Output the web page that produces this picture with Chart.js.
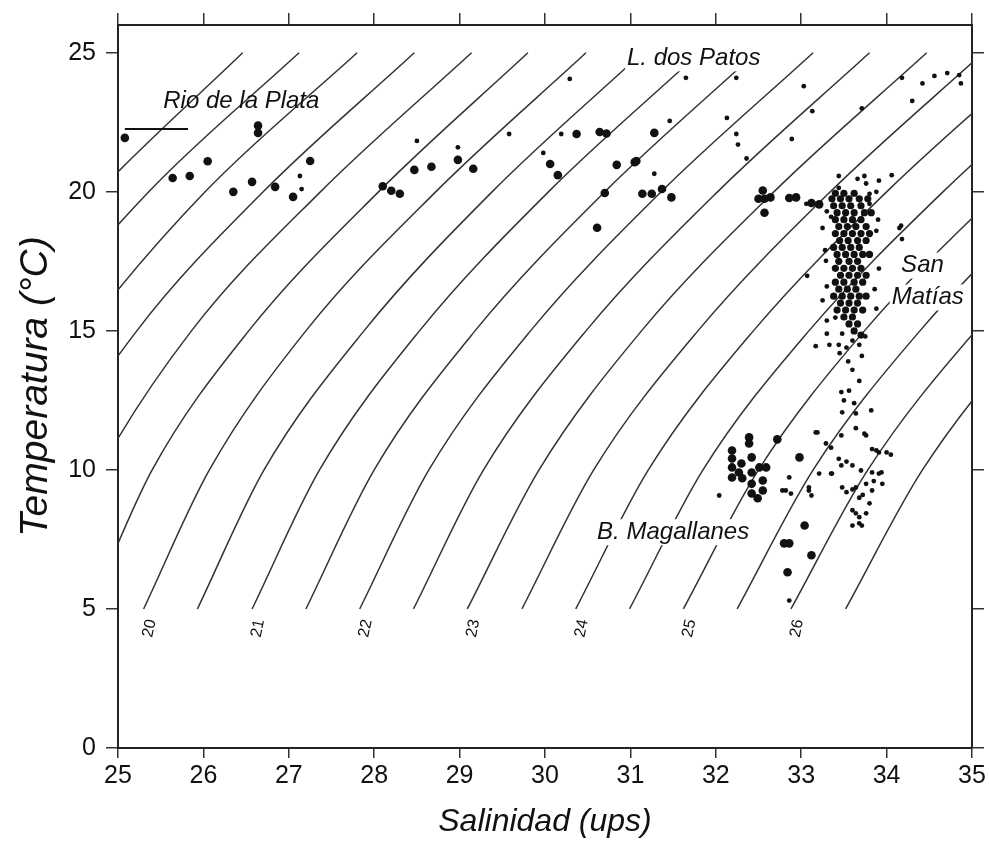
<!DOCTYPE html>
<html>
<head>
<meta charset="utf-8">
<script src="https://cdn.jsdelivr.net/npm/chart.js@4.4.0/dist/chart.umd.min.js"></script>
<style>
  html, body { margin: 0; padding: 0; background: #fff; }
  #wrap { width: 989px; height: 849px; }
</style>
</head>
<body>
<div id="wrap"><canvas id="tsChart" width="989" height="849"></canvas></div>
<script>
// Diagrama T-S con isopicnas (sigma-t)
const FUENTE = '"Liberation Sans", Arial, sans-serif';

// isopicnas: salinidad donde cada curva cruza 5, 10, 15, 20 y 25 °C
const sigmaT = [17, 17.5, 18, 18.5, 19, 19.5, 20, 20.5, 21, 21.5, 22, 22.5, 23, 23.5, 24, 24.5, 25, 25.5, 26, 26.5];
const tempNiveles = [5, 10, 15, 20, 25];
const salT5  = [21.51, 22.14, 22.77, 23.41, 24.04, 24.67, 25.30, 25.93, 26.57, 27.20, 27.83, 28.46, 29.09, 29.73, 30.36, 30.99, 31.62, 32.25, 32.88, 33.52];
const salT10 = [22.22, 22.86, 23.50, 24.15, 24.79, 25.40, 26.07, 26.71, 27.36, 28.00, 28.64, 29.28, 29.93, 30.57, 31.21, 31.85, 32.50, 33.14, 33.78, 34.42];
const salT15 = [23.32, 23.97, 24.62, 25.22, 25.86, 26.53, 27.20, 27.88, 28.53, 29.18, 29.83, 30.48, 31.13, 31.79, 32.44, 33.09, 33.74, 34.39, 35.04, 35.69];
const salT20 = [24.77, 25.36, 26.02, 26.70, 27.37, 28.05, 28.72, 29.38, 30.04, 30.70, 31.36, 32.02, 32.68, 33.34, 34.00, 34.66, 35.32, 35.97, 36.63, 37.29];
const salT25 = [26.46, 27.12, 27.80, 28.47, 29.14, 29.80, 30.48, 31.14, 31.81, 32.47, 33.14, 33.80, 34.47, 35.13, 35.80, 36.46, 37.13, 37.79, 38.46, 39.12];
const etiquetasSigma = [20, 21, 22, 23, 24, 25, 26];

// estaciones [salinidad, temperatura]
const puntosGrandes = [
  [25.08, 21.94], [26.64, 22.12], [26.64, 22.38], [26.05, 21.1], [25.64, 20.5], [25.84, 20.57],
  [26.35, 20.0], [26.57, 20.36], [26.84, 20.18], [27.05, 19.82], [27.25, 21.11],
  [28.10, 20.2], [28.2, 20.04], [28.3, 19.93], [28.47, 20.79], [28.67, 20.9], [28.98, 21.15], [29.16, 20.83],
  [30.06, 21.0], [30.15, 20.6], [30.37, 22.08], [30.64, 22.15], [30.72, 22.1], [30.84, 20.97], [31.05, 21.07],
  [30.70, 19.96], [30.61, 18.71], [31.28, 22.12], [31.07, 21.11],
  [31.14, 19.93], [31.25, 19.93], [31.37, 20.1], [31.48, 19.8],
  [32.55, 20.05], [32.57, 19.75], [32.57, 19.25], [32.50, 19.75], [32.64, 19.8], [32.94, 19.8], [32.86, 19.78],
  [33.12, 19.6], [33.21, 19.55],
  [32.39, 11.17], [32.39, 10.95], [32.19, 10.7], [32.19, 10.41], [32.19, 10.09], [32.19, 9.73], [32.3, 10.23],
  [32.42, 10.45], [32.42, 9.91], [32.51, 10.09], [32.59, 10.09], [32.55, 9.62], [32.55, 9.26], [32.49, 8.98],
  [32.42, 9.5], [32.42, 9.15], [32.27, 9.91], [32.31, 9.7], [32.72, 11.1], [32.98, 10.45],
  [33.04, 8.0], [32.86, 7.36], [32.80, 7.36], [33.12, 6.93], [32.84, 6.32]
];
const puntosChicos = [
  [27.13, 20.57], [27.15, 20.1], [28.50, 21.83], [28.98, 21.6], [29.58, 22.08], [29.98, 21.4], [30.19, 22.08],
  [31.46, 22.55], [31.28, 20.65], [30.29, 24.06], [31.65, 24.1], [32.24, 24.1], [32.13, 22.66], [32.24, 22.08],
  [32.26, 21.7], [33.03, 23.8], [33.13, 22.9], [32.89, 21.9], [33.71, 23.0], [34.30, 23.27], [34.18, 24.1],
  [34.42, 23.9], [34.56, 24.17], [34.71, 24.27], [34.85, 24.2], [34.87, 23.9], [32.36, 21.2],
  [32.04, 9.08], [32.86, 9.73], [32.82, 9.26], [33.09, 9.26], [33.17, 11.35], [33.29, 10.95], [32.86, 5.3],
  [32.78, 9.26], [32.88, 9.15], [33.12, 9.08], [33.09, 9.37],
  [33.17, 14.45], [33.33, 14.5], [33.44, 14.5], [33.68, 14.5], [33.71, 14.1], [33.6, 13.6], [33.68, 13.2],
  [33.47, 12.8], [33.56, 12.85], [33.48, 12.07], [33.64, 12.03], [33.82, 12.14], [33.64, 11.5], [33.76, 11.24],
  [33.47, 11.24], [33.19, 11.35], [33.35, 10.8], [33.88, 10.7], [33.47, 10.16], [33.6, 10.16], [33.35, 9.87],
  [33.21, 9.87], [33.48, 9.37], [33.64, 9.37], [33.76, 9.5], [33.83, 9.26], [33.68, 9.0], [33.8, 8.8],
  [33.91, 9.87], [33.64, 8.44], [33.76, 8.44], [33.68, 8.08], [33.74, 11.3], [33.91, 10.63], [34.0, 10.63],
  [33.7, 9.98], [33.83, 9.91], [33.94, 9.91], [33.53, 9.2], [33.6, 9.3], [33.72, 9.1], [33.6, 8.55],
  [33.68, 8.3], [33.71, 8.0], [33.6, 8.0], [33.36, 9.87], [33.53, 10.3], [33.44, 10.4], [33.83, 10.75],
  [34.05, 10.55], [33.85, 9.6], [33.95, 9.5], [33.5, 12.5], [33.62, 12.4], [33.55, 13.9], [33.45, 14.2],
  [33.75, 14.8], [33.3, 14.9], [33.48, 14.9], [33.6, 14.65], [33.53, 14.4],
  [33.66, 20.47], [33.76, 20.3], [33.91, 20.4], [34.06, 20.6], [33.44, 20.14], [33.8, 19.93], [33.8, 19.57],
  [33.25, 18.7], [33.29, 17.52], [33.07, 16.98], [33.88, 18.6], [33.91, 17.24], [34.17, 18.78], [34.18, 18.3],
  [33.25, 16.1], [33.3, 15.37], [33.4, 15.48], [33.44, 20.57], [33.74, 20.57], [33.88, 20.0], [34.15, 18.7],
  [33.06, 19.57], [33.3, 19.3], [33.35, 19.1], [33.3, 16.6], [33.28, 17.9], [33.86, 16.5], [33.88, 15.8], [33.9, 19.0]
];
// núcleo denso frente a San Matías
const puntosGolfo = [
  [33.40, 19.95], [33.50, 19.95], [33.62, 19.95],
  [33.36, 19.75], [33.46, 19.75], [33.56, 19.75], [33.68, 19.75], [33.78, 19.75],
  [33.38, 19.5], [33.48, 19.5], [33.58, 19.5], [33.70, 19.5],
  [33.42, 19.25], [33.52, 19.25], [33.62, 19.25], [33.74, 19.25], [33.82, 19.25],
  [33.40, 19.0], [33.50, 19.0], [33.60, 19.0], [33.70, 19.0],
  [33.44, 18.75], [33.54, 18.75], [33.64, 18.75], [33.76, 18.75],
  [33.40, 18.5], [33.50, 18.5], [33.60, 18.5], [33.70, 18.5], [33.80, 18.5],
  [33.45, 18.25], [33.55, 18.25], [33.66, 18.25], [33.76, 18.25],
  [33.38, 18.0], [33.48, 18.0], [33.58, 18.0], [33.68, 18.0],
  [33.42, 17.75], [33.52, 17.75], [33.62, 17.75], [33.72, 17.75], [33.80, 17.75],
  [33.44, 17.5], [33.56, 17.5], [33.66, 17.5],
  [33.40, 17.25], [33.50, 17.25], [33.60, 17.25], [33.70, 17.25],
  [33.46, 17.0], [33.56, 17.0], [33.66, 17.0], [33.76, 17.0],
  [33.40, 16.75], [33.50, 16.75], [33.62, 16.75], [33.72, 16.75],
  [33.44, 16.5], [33.54, 16.5], [33.64, 16.5],
  [33.38, 16.25], [33.48, 16.25], [33.58, 16.25], [33.68, 16.25], [33.76, 16.25],
  [33.46, 16.0], [33.56, 16.0], [33.66, 16.0],
  [33.42, 15.75], [33.52, 15.75], [33.62, 15.75], [33.72, 15.75],
  [33.50, 15.5], [33.60, 15.5], [33.56, 15.25], [33.66, 15.25], [33.62, 15.0], [33.70, 14.85]
];

// rótulos de zonas
const rotulos = [
  { texto: 'Rio de la Plata', s: 25.53, t: 23.25, fondo: false },
  { texto: 'L. dos Patos', s: 30.96, t: 24.8, fondo: true },
  { texto: 'San', s: 34.17, t: 17.35, fondo: true },
  { texto: 'Matías', s: 34.06, t: 16.2, fondo: true },
  { texto: 'B. Magallanes', s: 30.61, t: 7.76, fondo: true }
];
const lineaPlata = { s1: 25.08, s2: 25.82, t: 22.26 };

const tablaSal = [salT5, salT10, salT15, salT20, salT25];

const isopicnas = sigmaT.map((sig, i) => ({
  label: 'sigma ' + sig,
  data: tempNiveles.map((t, k) => ({ x: tablaSal[k][i], y: t })),
  showLine: true,
  borderColor: '#333',
  borderWidth: 1.5,
  pointRadius: 0,
  cubicInterpolationMode: 'monotone',
  clip: 0,
  order: 2
}));

const aXY = arr => arr.map(p => ({ x: p[0], y: p[1] }));

const plugAnotaciones = {
  id: 'anotaciones',
  afterDatasetsDraw(chart) {
    const { ctx } = chart;
    const x = chart.scales.x, y = chart.scales.y;
    ctx.save();
    // números de las isopicnas
    ctx.font = '16px ' + FUENTE;
    ctx.fillStyle = '#111';
    ctx.textAlign = 'center';
    ctx.textBaseline = 'middle';
    etiquetasSigma.forEach(sig => {
      const i = sigmaT.indexOf(sig);
      const px = x.getPixelForValue(salT5[i] + 0.07);
      const py = y.getPixelForValue(4.3);
      ctx.save();
      ctx.translate(px, py);
      ctx.rotate(-78 * Math.PI / 180);
      ctx.fillText(String(sig), 0, 0);
      ctx.restore();
    });
    // línea guía del Río de la Plata
    ctx.strokeStyle = '#111';
    ctx.lineWidth = 2;
    ctx.beginPath();
    ctx.moveTo(x.getPixelForValue(lineaPlata.s1), y.getPixelForValue(lineaPlata.t));
    ctx.lineTo(x.getPixelForValue(lineaPlata.s2), y.getPixelForValue(lineaPlata.t));
    ctx.stroke();
    // rótulos
    ctx.font = 'italic 24px ' + FUENTE;
    ctx.textAlign = 'left';
    rotulos.forEach(r => {
      const px = x.getPixelForValue(r.s), py = y.getPixelForValue(r.t);
      if (r.fondo) {
        const w = ctx.measureText(r.texto).width;
        ctx.fillStyle = '#fff';
        ctx.fillRect(px - 2, py - 13, w + 4, 26);
      }
      ctx.fillStyle = '#111';
      ctx.fillText(r.texto, px, py);
    });
    ctx.restore();
  }
};

const gridEje = len => ({ drawOnChartArea: false, drawTicks: true, tickLength: len, color: '#333', lineWidth: 1.5 });
const bordeEje = { display: true, color: '#222', width: 2 };

new Chart(document.getElementById('tsChart'), {
  type: 'scatter',
  data: {
    datasets: [
      { label: 'golfo', data: aXY(puntosGolfo), pointRadius: 3.6, backgroundColor: '#111', borderWidth: 0, order: 1 },
      { label: 'chicos', data: aXY(puntosChicos), pointRadius: 2.4, backgroundColor: '#111', borderWidth: 0, order: 1 },
      { label: 'grandes', data: aXY(puntosGrandes), pointRadius: 4.3, backgroundColor: '#111', borderWidth: 0, order: 1 },
      ...isopicnas
    ]
  },
  options: {
    responsive: false,
    animation: false,
    devicePixelRatio: 1,
    layout: { padding: 0 },
    plugins: { legend: { display: false }, tooltip: { enabled: false } },
    scales: {
      x: {
        type: 'linear', position: 'bottom', min: 25, max: 35,
        ticks: { stepSize: 1, includeBounds: false, color: '#111', padding: 3, font: { family: FUENTE, size: 25 } },
        grid: gridEje(10),
        border: bordeEje,
        title: { display: true, text: 'Salinidad (ups)', color: '#111', padding: { top: 0, bottom: 8 },
                 font: { family: FUENTE, size: 32, style: 'italic' } },
        afterFit: s => { s.height = 101; }
      },
      xTop: {
        type: 'linear', axis: 'x', position: 'top', min: 25, max: 35,
        ticks: { stepSize: 1, includeBounds: false, callback: () => '' },
        grid: gridEje(12),
        border: bordeEje,
        afterFit: s => { s.height = 22; }
      },
      y: {
        type: 'linear', position: 'left', min: 0, max: 26,
        ticks: { stepSize: 5, includeBounds: false, color: '#111', padding: 10, font: { family: FUENTE, size: 25 } },
        grid: gridEje(12),
        border: bordeEje,
        title: { display: true, text: 'Temperatura (°C)', color: '#111', padding: { top: 13, bottom: 0 },
                 font: { family: FUENTE, size: 39, style: 'italic' } },
        afterFit: s => { s.width = 118; }
      },
      yRight: {
        type: 'linear', axis: 'y', position: 'right', min: 0, max: 26,
        ticks: { stepSize: 5, includeBounds: false, callback: () => '' },
        grid: gridEje(12),
        border: bordeEje,
        afterFit: s => { s.width = 17; }
      }
    }
  },
  plugins: [plugAnotaciones]
});
</script>
</body>
</html>
